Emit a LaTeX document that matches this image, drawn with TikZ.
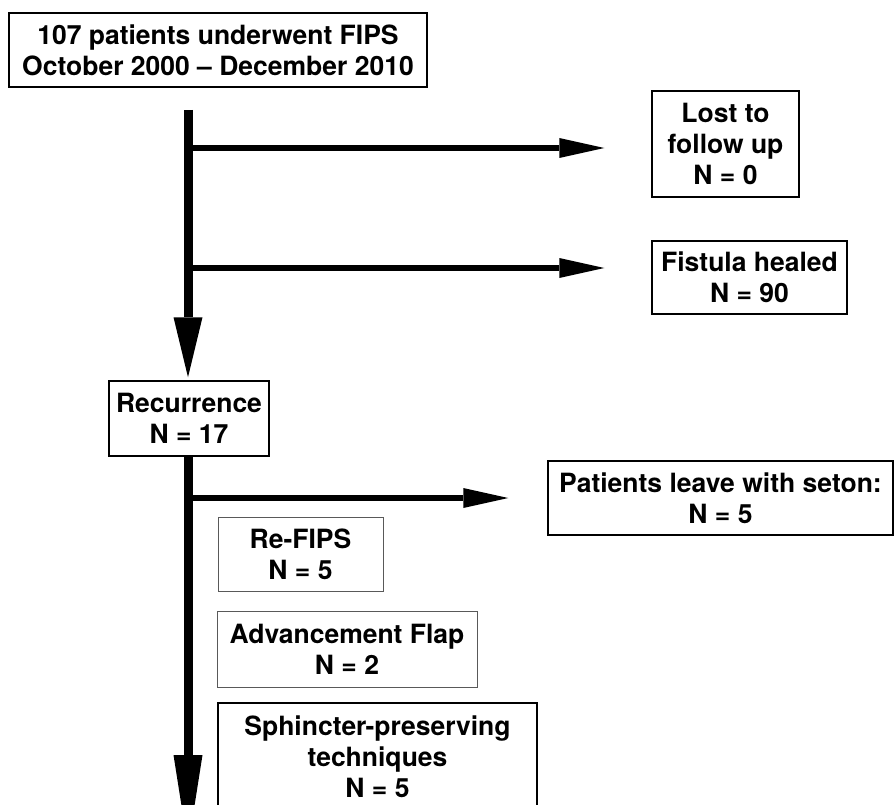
\documentclass[tikz,border=0pt]{standalone}
\usepackage{fontspec}
\setmainfont{TeX Gyre Heros}
\usetikzlibrary{arrows.meta}
\tikzset{
  box/.style={draw, line width=1.5pt, inner sep=0pt, align=center,
    font=\fontsize{26.5}{31}\selectfont\bfseries},
  thinbox/.style={box, draw=black!65, line width=0.9pt},
  vline/.style={line width=9pt, -{Triangle[length=60pt,width=29pt,line width=0pt]}},
  vlinelong/.style={line width=9pt, -{Triangle[length=92pt,width=29pt,line width=0pt]}},
  hline/.style={line width=6.5pt, -{Triangle[length=45pt,width=20pt,line width=0pt]}}
}
\begin{document}
\begin{tikzpicture}[x=1pt,y=-1pt]
\useasboundingbox (0,0) rectangle (894,805);
\clip (0,0) rectangle (894,805);
\node[box, minimum width=418pt, minimum height=74pt] (top) at (218,50) {107 patients underwent FIPS\\October 2000 -- December 2010};
\node[box, minimum width=147pt, minimum height=106pt] (lost) at (725.5,144) {Lost to\\follow up\\N = 0};
\node[box, minimum width=195pt, minimum height=73pt] (healed) at (749.5,277.5) {Fistula healed\\N = 90};
\node[box, minimum width=160pt, minimum height=75pt] (rec) at (189,418.5) {Recurrence\\N = 17};
\node[box, minimum width=345pt, minimum height=74pt] (seton) at (720.5,498) {Patients leave with seton:\\N = 5};
\node[thinbox, minimum width=165pt, minimum height=74pt] (refips) at (300.5,554) {Re-FIPS\\N = 5};
\node[thinbox, minimum width=260pt, minimum height=76pt] (flap) at (347,649) {Advancement Flap\\N = 2};
\node[box, minimum width=319pt, minimum height=108pt] (sph) at (377.5,757) {Sphincter-preserving\\techniques\\N = 5};
\coordinate (v1s) at (188,110);
\coordinate (b1) at (188,148);
\coordinate (b2) at (188,268);
\coordinate (b3) at (188,498);
\coordinate (v2e) at (188,847);
\draw[vline, shorten >=3pt] (v1s) -- (v1s |- rec.north);
\draw[hline, shorten >=47pt] (b1) -- (b1 -| lost.west);
\draw[hline, shorten >=47pt] (b2) -- (b2 -| healed.west);
\draw[vlinelong] (rec.south -| v2e) -- (v2e);
\draw[hline, shorten >=39pt] (b3) -- (seton.west);
\end{tikzpicture}
\end{document}
